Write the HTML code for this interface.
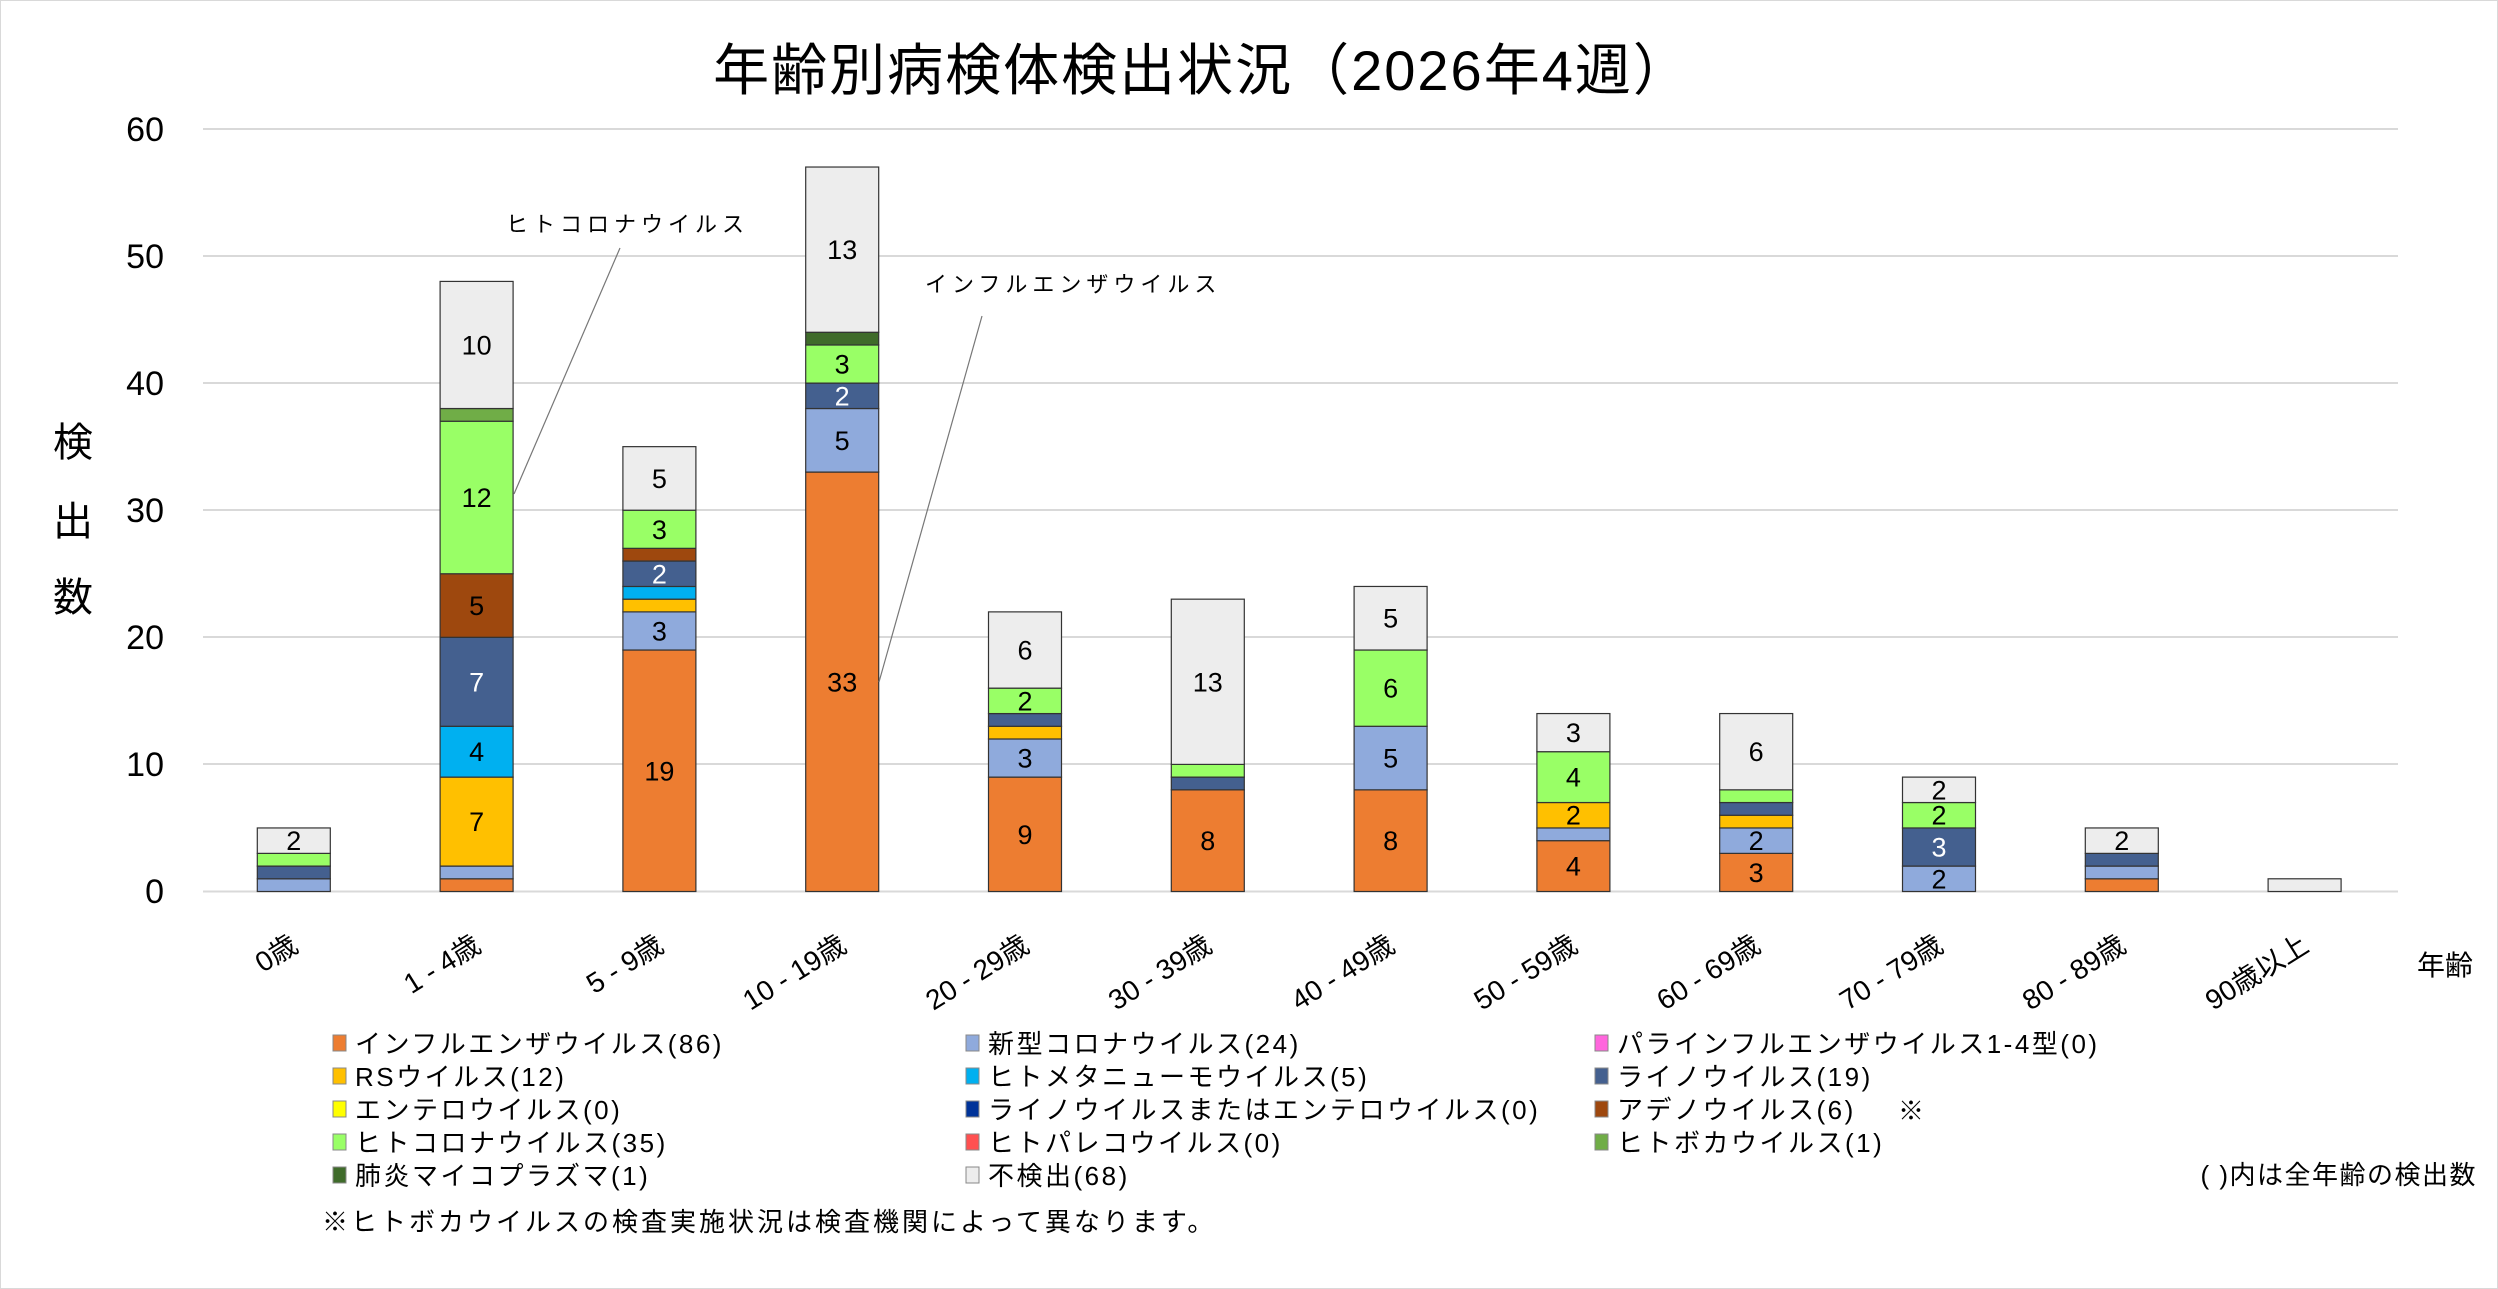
<!DOCTYPE html>
<html><head><meta charset="utf-8"><style>
html,body{margin:0;padding:0;background:#fff}
svg{display:block}
text{font-family:"Liberation Sans","Noto Sans CJK JP",sans-serif}
</style></head><body>
<svg width="2498" height="1289" viewBox="0 0 2498 1289" xmlns="http://www.w3.org/2000/svg">
<rect x="0.5" y="0.5" width="2497" height="1288" fill="#fff" stroke="#d9d9d9"/>
<text x="1202" y="90" font-size="56" letter-spacing="2" text-anchor="middle">年齢別病検体検出状況（2026年4週）</text>
<g stroke="#d9d9d9" stroke-width="2">
<line x1="203" x2="2398" y1="129" y2="129"/><line x1="203" x2="2398" y1="256" y2="256"/>
<line x1="203" x2="2398" y1="383" y2="383"/><line x1="203" x2="2398" y1="510" y2="510"/>
<line x1="203" x2="2398" y1="637" y2="637"/><line x1="203" x2="2398" y1="764" y2="764"/>
<line x1="203" x2="2398" y1="891.5" y2="891.5"/>
</g>
<g font-size="34" text-anchor="end">
<text x="164" y="141">60</text><text x="164" y="268">50</text><text x="164" y="395">40</text>
<text x="164" y="522">30</text><text x="164" y="649">20</text><text x="164" y="776">10</text><text x="164" y="903">0</text>
</g>
<g font-size="40" text-anchor="middle">
<text x="73" y="456">検</text><text x="73" y="535">出</text><text x="73" y="611">数</text>
</g>
<g id="bars" stroke="#333" stroke-width="1.2"></g>
<g id="lbl" font-size="27" text-anchor="middle"></g>
<g stroke="#777" stroke-width="1.2">
<line x1="620" y1="248" x2="514" y2="494"/>
<line x1="982" y1="316" x2="879" y2="682"/>
</g>
<g font-size="22" letter-spacing="5"><text x="506" y="232">ヒトコロナウイルス</text><text x="925" y="292">インフルエンザウイルス</text></g>
<g id="xl" font-size="28" text-anchor="end"></g>
<text x="2417" y="975" font-size="28">年齢</text>
<g id="leg" font-size="26" letter-spacing="2.5"></g>
<text x="1898" y="1120" font-size="26">※</text>
<text x="2477" y="1184" font-size="26" letter-spacing="1.5" text-anchor="end">( )内は全年齢の検出数</text>
<text x="322" y="1231" font-size="26" letter-spacing="3">※ヒトボカウイルスの検査実施状況は検査機関によって異なります。</text>
</svg>
<script>
var C={flu:"#ED7D31",cov:"#8FAADC",rs:"#FFC000",mpv:"#00B0F0",rhi:"#44608F",ade:"#9E480E",hco:"#99FF66",boc:"#70AD47",myc:"#3F6B2A",non:"#EDEDED"};
var D=[[["cov",1],["rhi",1],["hco",1],["non",2]],
[["flu",1],["cov",1],["rs",7],["mpv",4],["rhi",7],["ade",5],["hco",12],["boc",1],["non",10]],
[["flu",19],["cov",3],["rs",1],["mpv",1],["rhi",2],["ade",1],["hco",3],["non",5]],
[["flu",33],["cov",5],["rhi",2],["hco",3],["myc",1],["non",13]],
[["flu",9],["cov",3],["rs",1],["rhi",1],["hco",2],["non",6]],
[["flu",8],["rhi",1],["hco",1],["non",13]],
[["flu",8],["cov",5],["hco",6],["non",5]],
[["flu",4],["cov",1],["rs",2],["hco",4],["non",3]],
[["flu",3],["cov",2],["rs",1],["rhi",1],["hco",1],["non",6]],
[["cov",2],["rhi",3],["hco",2],["non",2]],
[["flu",1],["cov",1],["rhi",1],["non",2]],
[["non",1]]];
var X=["0歳","1 - 4歳","5 - 9歳","10 - 19歳","20 - 29歳","30 - 39歳","40 - 49歳","50 - 59歳","60 - 69歳","70 - 79歳","80 - 89歳","90歳以上"];
var u=12.71,y0=891.5,b="",l="",x="";
D.forEach(function(s,i){var cx=293.8+182.8*i,c=0;s.forEach(function(p){var t=y0-(c+p[1])*u,h=p[1]*u;
b+='<rect x="'+(cx-36.5)+'" y="'+t+'" width="73" height="'+h+'" fill="'+C[p[0]]+'"/>';
if(p[1]>=2)l+='<text x="'+cx+'" y="'+(t+h/2+9.5)+'" fill="'+(p[0]=="rhi"?"#fff":"#000")+'">'+p[1]+'</text>';c+=p[1];});
x+='<text transform="translate('+(cx+6)+',950) rotate(-32)">'+X[i]+'</text>';});
document.getElementById("bars").innerHTML=b;document.getElementById("lbl").innerHTML=l;document.getElementById("xl").innerHTML=x;
var L=[["#ED7D31","インフルエンザウイルス(86)"],["#8FAADC","新型コロナウイルス(24)"],["#FF66DD","パラインフルエンザウイルス1-4型(0)"],
["#FFC000","RSウイルス(12)"],["#00B0F0","ヒトメタニューモウイルス(5)"],["#44608F","ライノウイルス(19)"],
["#FFFF00","エンテロウイルス(0)"],["#003399","ライノウイルスまたはエンテロウイルス(0)"],["#9E480E","アデノウイルス(6)"],
["#99FF66","ヒトコロナウイルス(35)"],["#FF5050","ヒトパレコウイルス(0)"],["#70AD47","ヒトボカウイルス(1)"],
["#3F6B2A","肺炎マイコプラズマ(1)"],["#EDEDED","不検出(68)"]];
var g="",cols=[333,966,1595];
L.forEach(function(e,k){var r=Math.floor(k/3),c=k%3,yy=1043+r*33;
g+='<rect x="'+cols[c]+'" y="'+(yy-8)+'" width="13" height="16" fill="'+e[0]+'" stroke="#888"/>';
g+='<text x="'+(cols[c]+22)+'" y="'+(yy+10)+'">'+e[1]+'</text>';});
document.getElementById("leg").innerHTML=g;
</script>
</body></html>
